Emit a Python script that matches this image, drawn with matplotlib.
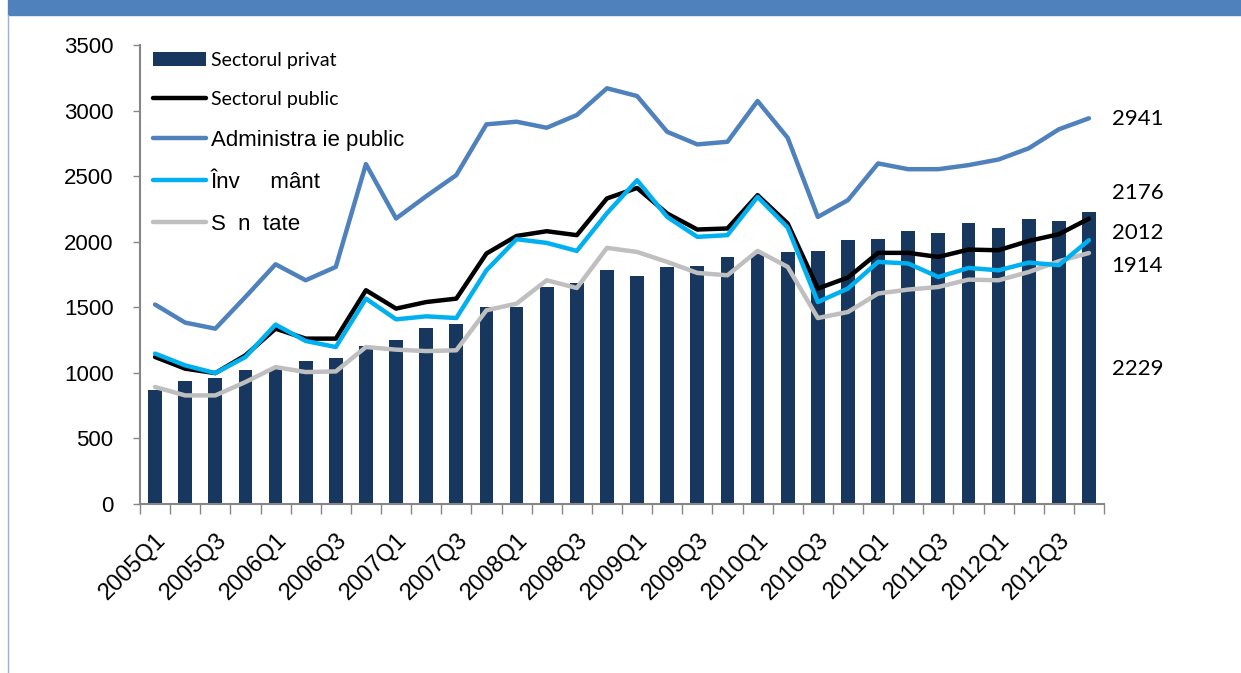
import matplotlib
matplotlib.use("Agg")
import matplotlib.pyplot as plt
from matplotlib.patches import Rectangle
from matplotlib.lines import Line2D
import numpy as np

quarters = [f"{y}Q{q}" for y in range(2005, 2013) for q in range(1, 5)]

privat = [872, 940, 960, 1021, 1030, 1090, 1111, 1205, 1248, 1345, 1373, 1500,
          1505, 1653, 1683, 1782, 1737, 1811, 1815, 1884, 1905, 1918, 1930, 2011,
          2019, 2078, 2063, 2141, 2101, 2174, 2159, 2229]
public = [1121, 1032, 998, 1134, 1337, 1261, 1261, 1630, 1490, 1540, 1566, 1910,
          2044, 2080, 2050, 2330, 2410, 2215, 2093, 2101, 2355, 2139, 1643, 1727,
          1915, 1915, 1884, 1940, 1935, 2006, 2057, 2176]
admin = [1521, 1383, 1337, 1579, 1828, 1706, 1808, 2592, 2177, 2347, 2508, 2895,
         2915, 2869, 2966, 3170, 3111, 2838, 2742, 2762, 3073, 2792, 2189, 2317,
         2597, 2553, 2553, 2584, 2627, 2712, 2857, 2941]
invatamant = [1147, 1057, 998, 1121, 1368, 1243, 1197, 1566, 1408, 1431, 1418, 1782,
              2019, 1991, 1930, 2217, 2469, 2189, 2037, 2050, 2342, 2108, 1540, 1643,
              1846, 1834, 1731, 1800, 1782, 1841, 1821, 2012]
sanatate = [892, 828, 828, 930, 1044, 1006, 1011, 1197, 1177, 1166, 1172, 1477,
            1528, 1706, 1647, 1953, 1922, 1846, 1762, 1744, 1930, 1808, 1418, 1464,
            1605, 1635, 1655, 1711, 1706, 1769, 1851, 1914]

labels = ["Sectorul privat", "Sectorul public", "Administra ie public", "Înv     mânt", "S  n  tate"]

navy = "#17375E"
blue = "#4F81BD"
cyan = "#00B0F0"
grey = "#BFBFBF"
axis_grey = "#868686"

fig = plt.figure(figsize=(12.41, 6.73), dpi=100)
fig.patches.append(Rectangle((8 / 1241, 1 - 15 / 673), 1, 15 / 673, transform=fig.transFigure,
                             color=blue, zorder=0))
fig.lines.append(Line2D([8 / 1241, 8 / 1241], [0, 1 - 15 / 673], transform=fig.transFigure,
                        color="#95B3D7", lw=1))

ax = fig.add_axes([140 / 1241, 1 - 504 / 673, 964 / 1241, 459 / 673])
x = np.arange(len(quarters))

h0 = ax.bar(x, privat, width=0.46, color=navy, label=labels[0], zorder=2)
h1, = ax.plot(x, public, color="black", lw=3.2, label=labels[1], zorder=4, solid_capstyle="round")
h2, = ax.plot(x, admin, color=blue, lw=3.2, label=labels[2], zorder=3, solid_capstyle="round")
h3, = ax.plot(x, invatamant, color=cyan, lw=3.2, label=labels[3], zorder=5, solid_capstyle="round")
h4, = ax.plot(x, sanatate, color=grey, lw=3.2, label=labels[4], zorder=3, solid_capstyle="round")

ax.set_xlim(-0.5, len(quarters) - 0.5)
ax.set_ylim(0, 3500)
ax.set_yticks(range(0, 3501, 500))
ax.set_xticks(x[::2])
ax.set_xticklabels(quarters[::2], rotation=45, ha="right", rotation_mode="anchor",
                   fontsize=17, family="Liberation Sans")
ax.set_xticks(np.arange(-0.5, len(quarters), 1), minor=True)
ax.tick_params(axis="x", which="major", length=0, pad=18)
ax.tick_params(axis="x", which="minor", length=7, color=axis_grey, width=1)
ax.tick_params(axis="y", length=5, color=axis_grey, width=1, labelsize=16, pad=14)
for lab in ax.get_yticklabels():
    lab.set_family("Liberation Sans")

for s in ["top", "right"]:
    ax.spines[s].set_visible(False)
for s in ["left", "bottom"]:
    ax.spines[s].set_color(axis_grey)
    ax.spines[s].set_linewidth(1.5)

# end values on the right
end_offsets = [(admin, 2935), (public, 2370), (invatamant, 2065), (sanatate, 1813), (privat, 1027)]
for series, ypos in end_offsets:
    ax.text(31.75, ypos, str(series[-1]), fontsize=16, family="Lato", va="center",
            ha="left", clip_on=False)

leg = ax.legend([h0, h1, h2, h3, h4], labels, loc="upper left", bbox_to_anchor=(0.004, 1.005),
                frameon=False, fontsize=16, handlelength=2.4, handletextpad=0.22,
                labelspacing=0.95, borderaxespad=0, handleheight=0.6)
leg.set_zorder(10)
for i, t in enumerate(leg.get_texts()):
    if i < 2:
        t.set_family("Lato")
        t.set_fontsize(14)
    else:
        t.set_family("Liberation Sans")

fig.savefig("out.png", dpi=100)
